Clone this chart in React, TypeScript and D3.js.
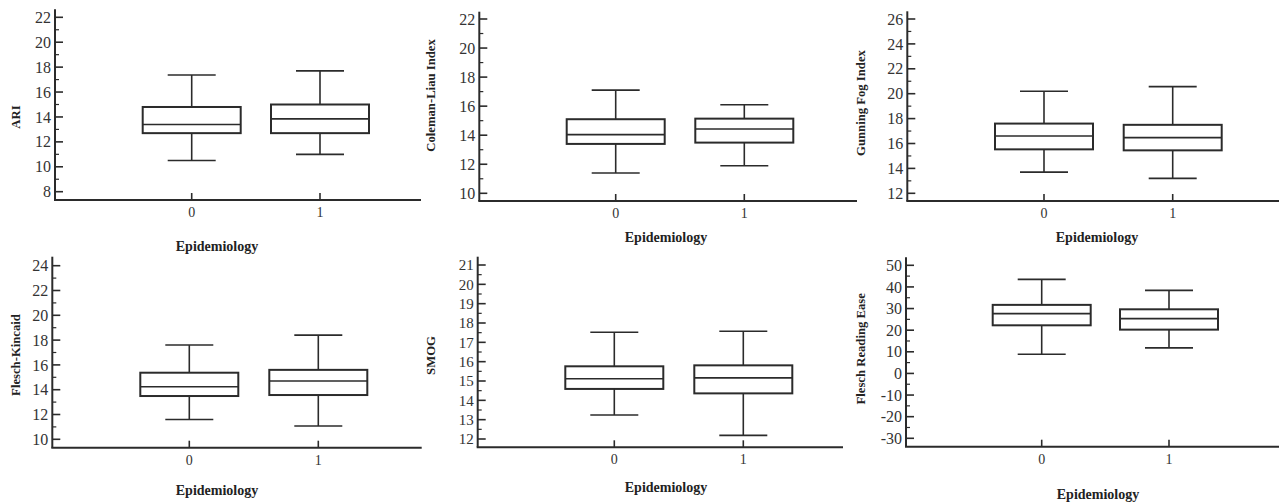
import React from "react";
import * as d3 from "d3";

// ---------- DATA ----------
const categories = ["0", "1"];
const xAxisTitle = "Epidemiology";
const metricNames = [
  "ARI",
  "Coleman-Liau Index",
  "Gunning Fog Index",
  "Flesch-Kincaid",
  "SMOG",
  "Flesch Reading Ease",
];

// [lower whisker, Q1, median, Q3, upper whisker] per category
const ariStats = [
  [10.5, 12.7, 13.4, 14.8, 17.37],
  [11.0, 12.7, 13.85, 15.0, 17.7],
];
const colemanStats = [
  [11.4, 13.4, 14.04, 15.1, 17.1],
  [11.9, 13.49, 14.43, 15.14, 16.1],
];
const gunningStats = [
  [13.7, 15.53, 16.6, 17.6, 20.2],
  [13.2, 15.45, 16.47, 17.5, 20.57],
];
const fkStats = [
  [11.6, 13.49, 14.24, 15.37, 17.6],
  [11.07, 13.57, 14.7, 15.6, 18.4],
];
const smogStats = [
  [13.24, 14.59, 15.12, 15.76, 17.52],
  [12.19, 14.36, 15.16, 15.81, 17.57],
];
const freStats = [
  [8.84, 22.25, 27.65, 31.7, 43.5],
  [11.8, 20.25, 25.34, 29.65, 38.4],
];

const ariTicks = [8, 10, 12, 14, 16, 18, 20, 22];
const colemanTicks = [10, 12, 14, 16, 18, 20, 22];
const gunningTicks = [12, 14, 16, 18, 20, 22, 24, 26];
const fkTicks = [10, 12, 14, 16, 18, 20, 22, 24];
const smogTicks = [12, 13, 14, 15, 16, 17, 18, 19, 20, 21];
const freTicks = [-30, -20, -10, 0, 10, 20, 30, 40, 50];

const statsList = [ariStats, colemanStats, gunningStats, fkStats, smogStats, freStats];
const tickList = [ariTicks, colemanTicks, gunningTicks, fkTicks, smogTicks, freTicks];
const minorSteps = [1, 1, 1, 1, 0.5, 5];

// ---------- LAYOUT ----------
type Layout = {
  axisX: number; yTop: number; yBot: number; xAxisY: number; axisTopY: number;
  xRight: number; cx: [number, number]; titleX: number; titleY: number;
  xlabX: number; xlabY: number;
};
const layouts: Layout[] = [
  { axisX: 55, yTop: 17.3, yBot: 191.7, xAxisY: 200, axisTopY: 9.3, xRight: 421, cx: [191.7, 320], titleX: 19.5, titleY: 117, xlabX: 217, xlabY: 251 },
  { axisX: 479.3, yTop: 19, yBot: 193.3, xAxisY: 201, axisTopY: 11.7, xRight: 857, cx: [615.7, 744.3], titleX: 434.5, titleY: 95.5, xlabX: 666, xlabY: 242 },
  { axisX: 907.3, yTop: 19, yBot: 193.3, xAxisY: 201, axisTopY: 11.3, xRight: 1279, cx: [1044, 1172.7], titleX: 864.5, titleY: 103, xlabX: 1097, xlabY: 242 },
  { axisX: 52.3, yTop: 265.7, yBot: 439.3, xAxisY: 447.7, axisTopY: 256.7, xRight: 421.7, cx: [189.3, 318.3], titleX: 19.5, titleY: 355, xlabX: 217, xlabY: 495 },
  { axisX: 477.7, yTop: 265, yBot: 439, xAxisY: 447.3, axisTopY: 256.7, xRight: 843, cx: [614.3, 743.3], titleX: 434.5, titleY: 355.5, xlabX: 666, xlabY: 492 },
  { axisX: 906, yTop: 265.3, yBot: 438.3, xAxisY: 446.7, axisTopY: 257.3, xRight: 1279, cx: [1041.7, 1169], titleX: 864.5, titleY: 348.8, xlabX: 1098, xlabY: 499 },
];

const FONT = "'Liberation Serif', 'Times New Roman', serif";
const INK = "#2b2b2b";
const BOX_HALF = 49;
const CAP_HALF = 24;

function Panel({ idx }: { idx: number }) {
  const L = layouts[idx];
  const ticks = tickList[idx];
  const stats = statsList[idx];
  const y = d3.scaleLinear().domain([ticks[0], ticks[ticks.length - 1]]).range([L.yBot, L.yTop]);
  const x = d3.scalePoint<string>().domain(categories).range(L.cx);
  const step = minorSteps[idx];
  const minors = d3
    .range(ticks[0], ticks[ticks.length - 1] + step / 2, step)
    .filter((v) => !ticks.some((t) => Math.abs(t - v) < 1e-6));
  const tickFont = idx === 4 ? 15 : 16;

  return (
    <g>
      {/* axes */}
      <line x1={L.axisX} x2={L.axisX} y1={L.axisTopY} y2={L.xAxisY} stroke={INK} strokeWidth={2} />
      <line x1={L.axisX - 1} x2={L.xRight} y1={L.xAxisY} y2={L.xAxisY} stroke={INK} strokeWidth={2} />
      {ticks.map((t) => (
        <g key={"t" + t}>
          <line x1={L.axisX} x2={L.axisX + 8} y1={y(t)} y2={y(t)} stroke={INK} strokeWidth={1.6} />
          <text x={L.axisX - 4} y={y(t)} dy="0.35em" textAnchor="end" fontFamily={FONT} fontSize={tickFont} fill="#333">
            {t}
          </text>
        </g>
      ))}
      {minors.map((m) => (
        <line key={"m" + m} x1={L.axisX} x2={L.axisX + 4} y1={y(m)} y2={y(m)} stroke={INK} strokeWidth={1.2} />
      ))}
      {categories.map((c) => (
        <g key={"c" + c}>
          <line x1={x(c)} x2={x(c)} y1={L.xAxisY} y2={L.xAxisY - 7} stroke={INK} strokeWidth={1.6} />
          <text x={x(c)} y={L.xAxisY + 17} textAnchor="middle" fontFamily={FONT} fontSize={14} fill="#333">
            {c}
          </text>
        </g>
      ))}
      {/* boxes */}
      {categories.map((c, i) => {
        const [lo, q1, med, q3, hi] = stats[i];
        const cx = x(c) as number;
        return (
          <g key={"b" + c} stroke={INK} fill="none">
            <line x1={cx} x2={cx} y1={y(hi)} y2={y(q3)} strokeWidth={1.6} />
            <line x1={cx} x2={cx} y1={y(q1)} y2={y(lo)} strokeWidth={1.6} />
            <line x1={cx - CAP_HALF} x2={cx + CAP_HALF} y1={y(hi)} y2={y(hi)} strokeWidth={1.6} />
            <line x1={cx - CAP_HALF} x2={cx + CAP_HALF} y1={y(lo)} y2={y(lo)} strokeWidth={1.6} />
            <rect x={cx - BOX_HALF} y={y(q3)} width={BOX_HALF * 2} height={y(q1) - y(q3)} strokeWidth={2} fill="white" />
            <line x1={cx - BOX_HALF} x2={cx + BOX_HALF} y1={y(med)} y2={y(med)} strokeWidth={1.6} />
          </g>
        );
      })}
      {/* titles */}
      <text
        transform={`translate(${L.titleX},${L.titleY}) rotate(-90)`}
        textAnchor="middle"
        fontFamily={FONT}
        fontWeight="bold"
        fontSize={12.7}
        fill="#222"
      >
        {metricNames[idx]}
      </text>
      <text x={L.xlabX} y={L.xlabY} textAnchor="middle" fontFamily={FONT} fontWeight="bold" fontSize={14} fill="#222">
        {xAxisTitle}
      </text>
    </g>
  );
}

export default function App() {
  return (
    <svg
      width={1279}
      height={502}
      style={{ position: "absolute", left: 0, top: 0, background: "white" }}
    >
      <rect width={1279} height={502} fill="white" />
      {metricNames.map((_, i) => (
        <Panel key={i} idx={i} />
      ))}
    </svg>
  );
}
